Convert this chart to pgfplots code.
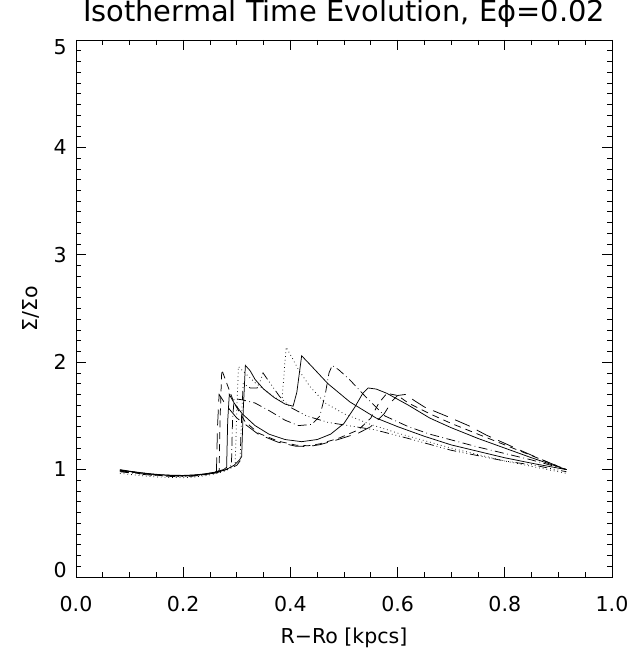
\documentclass[border=0pt]{standalone}
\usepackage{pgfplots}
\pgfplotsset{compat=1.18}
\usepackage{fontspec}
\setmainfont{DejaVu Sans}
\begin{document}
\begin{tikzpicture}
\begin{axis}[name=ax, scale only axis, width=536bp, height=537bp,
  xmin=0, xmax=1, ymin=0, ymax=5,
  xtick={0,0.2,0.4,0.6,0.8,1.0}, xticklabels={0.0,0.2,0.4,0.6,0.8,1.0},
  ytick={0,1,2,3,4,5},
  yticklabels={{\raisebox{6.5bp}{0}},1,2,3,4,{\raisebox{-7.7bp}{5}}},
  minor x tick num=3, minor y tick num=9,
  tick align=inside, major tick length=10bp, minor tick length=5bp,
  every tick/.style={black, line width=0.7pt},
  axis line style={line width=0.8pt},
  ticklabel style={font=\fontsize{20.6}{24}\selectfont},
  /pgf/number format/assume math mode=true,
  xticklabel style={anchor=base, yshift=-34bp, inner sep=0pt},
  yticklabel style={anchor=base east, inner sep=0pt, xshift=-9bp, yshift=-7.3bp},
  title={Isothermal Time Evolution, E\symbol{"03D5}=0.02},
  title style={font=\fontsize{29}{33}\selectfont, at={(0.5,1)}, anchor=base, yshift=13bp, inner sep=0pt},
  xlabel={R\symbol{"2212}Ro [kpcs]},
  xlabel style={font=\fontsize{20.6}{24}\selectfont, at={(0.5,0)}, anchor=base, yshift=-66bp, inner sep=0pt},
  ylabel={\symbol{"03A3}/\symbol{"03A3}o},
  ylabel style={font=\fontsize{20.6}{24}\selectfont, at={(axis description cs:-0.0709,0.5)}, anchor=base, inner sep=0pt},
  every axis plot/.append style={black, line width=0.75pt},
]
% A solid
\addplot[solid] coordinates {(0.082,0.995) (0.10,0.982) (0.12,0.97) (0.14,0.958) (0.16,0.95) (0.18,0.945) (0.20,0.944) (0.22,0.948) (0.24,0.958) (0.26,0.975) (0.28,1.00) (0.295,1.04) (0.305,1.09) (0.309,1.12) (0.312,1.55) (0.316,1.97) (0.325,1.92) (0.334,1.84) (0.35,1.75) (0.37,1.67) (0.39,1.61) (0.405,1.59) (0.412,1.72) (0.421,2.06) (0.44,1.96) (0.47,1.80) (0.511,1.63) (0.56,1.48) (0.60,1.40) (0.65,1.31) (0.70,1.23) (0.75,1.17) (0.80,1.11) (0.86,1.05) (0.915,1.0)};
% B solid
\addplot[solid] coordinates {(0.082,1.0) (0.10,0.985) (0.12,0.972) (0.14,0.96) (0.16,0.952) (0.18,0.947) (0.20,0.946) (0.22,0.95) (0.24,0.96) (0.26,0.977) (0.275,1.0) (0.281,1.02) (0.283,1.45) (0.286,1.70) (0.295,1.62) (0.31,1.52) (0.334,1.41) (0.36,1.33) (0.39,1.28) (0.421,1.26) (0.45,1.28) (0.475,1.33) (0.50,1.43) (0.52,1.58) (0.535,1.71) (0.545,1.76) (0.56,1.75) (0.58,1.71) (0.62,1.60) (0.66,1.48) (0.70,1.39) (0.75,1.29) (0.80,1.20) (0.85,1.11) (0.915,1.0)};
% C dotted
\addplot[dash pattern=on 0.75pt off 3pt] coordinates {(0.082,0.965) (0.10,0.955) (0.12,0.945) (0.14,0.935) (0.16,0.93) (0.18,0.926) (0.20,0.925) (0.22,0.93) (0.24,0.942) (0.26,0.96) (0.28,0.99) (0.293,1.03) (0.297,1.05) (0.300,1.55) (0.303,1.96) (0.315,1.90) (0.334,1.81) (0.36,1.71) (0.384,1.63) (0.388,1.88) (0.392,2.14) (0.40,2.07) (0.415,1.93) (0.437,1.77) (0.465,1.62) (0.50,1.52) (0.55,1.42) (0.60,1.34) (0.70,1.20) (0.80,1.08) (0.915,0.965)};
% D dash-dot
\addplot[dash pattern=on 9pt off 3.5pt on 0.75pt off 3.5pt] coordinates {(0.082,0.985) (0.10,0.975) (0.12,0.962) (0.14,0.952) (0.16,0.944) (0.18,0.94) (0.20,0.938) (0.22,0.942) (0.24,0.953) (0.26,0.97) (0.28,1.0) (0.290,1.04) (0.292,1.45) (0.295,1.66) (0.31,1.65) (0.334,1.62) (0.36,1.55) (0.39,1.46) (0.415,1.41) (0.44,1.42) (0.455,1.50) (0.465,1.70) (0.472,1.90) (0.478,1.97) (0.49,1.93) (0.51,1.84) (0.54,1.68) (0.576,1.50) (0.62,1.40) (0.66,1.33) (0.75,1.21) (0.85,1.09) (0.915,1.0)};
% E dashed
\addplot[dash pattern=on 7pt off 5pt] coordinates {(0.082,0.99) (0.10,0.978) (0.12,0.966) (0.14,0.955) (0.16,0.947) (0.18,0.942) (0.20,0.941) (0.22,0.945) (0.24,0.955) (0.26,0.975) (0.267,0.99) (0.269,1.5) (0.272,1.93) (0.28,1.82) (0.295,1.62) (0.315,1.45) (0.34,1.34) (0.377,1.265) (0.41,1.228) (0.433,1.222) (0.455,1.24) (0.489,1.29) (0.527,1.37) (0.55,1.48) (0.565,1.62) (0.58,1.71) (0.60,1.69) (0.62,1.62) (0.66,1.52) (0.70,1.43) (0.75,1.33) (0.80,1.23) (0.85,1.13) (0.915,1.0)};
% F long dash
\addplot[dash pattern=on 16pt off 8pt] coordinates {(0.082,0.995) (0.10,0.983) (0.12,0.97) (0.14,0.958) (0.16,0.95) (0.18,0.944) (0.20,0.942) (0.22,0.946) (0.24,0.957) (0.255,0.97) (0.262,0.98) (0.264,1.4) (0.267,1.70) (0.28,1.60) (0.30,1.48) (0.34,1.33) (0.377,1.255) (0.41,1.218) (0.433,1.215) (0.455,1.232) (0.489,1.28) (0.527,1.34) (0.55,1.40) (0.575,1.52) (0.59,1.64) (0.60,1.69) (0.615,1.70) (0.632,1.64) (0.651,1.58) (0.695,1.49) (0.732,1.41) (0.766,1.32) (0.802,1.24) (0.838,1.16) (0.875,1.08) (0.915,1.0)};
% G dash-dot-dot-dot
\addplot[dash pattern=on 9pt off 3pt on 0.75pt off 3pt on 0.75pt off 3pt on 0.75pt off 3pt] coordinates {(0.082,0.98) (0.10,0.97) (0.12,0.958) (0.14,0.948) (0.16,0.94) (0.18,0.936) (0.20,0.935) (0.22,0.94) (0.24,0.95) (0.26,0.968) (0.28,0.995) (0.30,1.04) (0.306,1.08) (0.309,1.5) (0.312,1.80) (0.325,1.76) (0.338,1.76) (0.345,1.84) (0.349,1.90) (0.36,1.82) (0.38,1.68) (0.40,1.58) (0.43,1.50) (0.47,1.44) (0.52,1.40) (0.558,1.37) (0.62,1.29) (0.70,1.18) (0.80,1.08) (0.856,1.04) (0.915,0.98)};
\end{axis}
\pgfresetboundingbox
\path ([shift={(-76bp,-77bp)}]ax.south west) rectangle ([shift={(21bp,40bp)}]ax.north east);
\end{tikzpicture}
\end{document}
